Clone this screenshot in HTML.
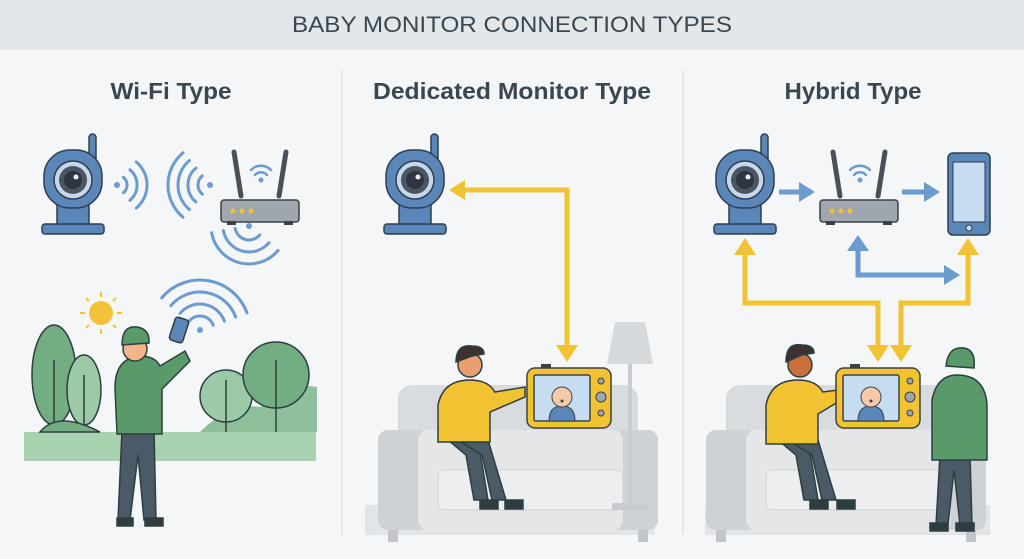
<!DOCTYPE html>
<html><head><meta charset="utf-8"><style>
html,body{margin:0;padding:0;background:#f4f6f8}
svg{display:block}
text{font-family:"Liberation Sans",sans-serif;fill:#3a4650}
</style></head><body>
<svg width="1024" height="559" viewBox="0 0 1024 559" xmlns="http://www.w3.org/2000/svg">
<defs>
 <g id="cam">
  <rect x="16" y="-46" width="7" height="32" rx="3.5" fill="#5b86b8" stroke="#2e3e50" stroke-width="1.5"/>
  <rect x="-16" y="18" width="32" height="30" fill="#5b86b8" stroke="#2e3e50" stroke-width="1.5"/>
  <rect x="-31" y="44" width="62" height="10" rx="3" fill="#5b86b8" stroke="#2e3e50" stroke-width="1.5"/>
  <rect x="-29" y="-30" width="58" height="58" rx="26" fill="#5b86b8" stroke="#2e3e50" stroke-width="1.5"/>
  <circle cx="0" cy="0" r="19" fill="#c6d7ea" stroke="#2e3e50" stroke-width="1.5"/>
  <circle cx="0" cy="0" r="14" fill="#4a5563"/>
  <circle cx="0" cy="0" r="9" fill="#2e3440"/>
  <circle cx="3" cy="-3" r="2.5" fill="#eee"/>
 </g>
 <g id="router">
  <line x1="13" y1="-48" x2="20" y2="-4" stroke="#4a5058" stroke-width="5" stroke-linecap="round"/>
  <line x1="65" y1="-48" x2="58" y2="-4" stroke="#4a5058" stroke-width="5" stroke-linecap="round"/>
  <rect x="0" y="0" width="78" height="22" rx="3" fill="#a0a6ad" stroke="#3b4148" stroke-width="1.5"/>
  <circle cx="12" cy="11" r="2.5" fill="#f1c232"/><circle cx="21" cy="11" r="2.5" fill="#f1c232"/><circle cx="30" cy="11" r="2.5" fill="#f1c232"/>
  <rect x="6" y="21" width="9" height="4" fill="#3b4148"/><rect x="63" y="21" width="9" height="4" fill="#3b4148"/>
  <path d="M30 -30 a14 14 0 0 1 20 0 M34 -25 a8 8 0 0 1 12 0" stroke="#6c9bcf" stroke-width="2.5" fill="none" stroke-linecap="round"/>
  <circle cx="40" cy="-20" r="2.5" fill="#6c9bcf"/>
 </g>
 <g id="couch">
  <rect x="20" y="0" width="240" height="90" rx="14" fill="#d9dcdf"/>
  <rect x="0" y="45" width="50" height="100" rx="10" fill="#cfd2d5"/>
  <rect x="230" y="45" width="50" height="100" rx="10" fill="#cfd2d5"/>
  <rect x="40" y="45" width="205" height="100" rx="10" fill="#e4e6e8"/>
  <rect x="60" y="85" width="185" height="40" rx="6" fill="#eceef0" stroke="#d0d3d6"/>
  <rect x="10" y="145" width="10" height="12" fill="#c2c6ca"/><rect x="260" y="145" width="10" height="12" fill="#c2c6ca"/>
 </g>
 <g id="mon">
  <rect x="0" y="0" width="84" height="60" rx="8" fill="#f1c232" stroke="#3b4148" stroke-width="1.5"/>
  <rect x="14" y="-4" width="10" height="4" fill="#3b4148"/>
  <rect x="7" y="7" width="56" height="46" rx="2" fill="#c6dcef" stroke="#3b4148" stroke-width="1.5"/>
  <path d="M22 53 q0 -15 13 -15 q13 0 13 15z" fill="#5b86b8" stroke="#3b4148"/>
  <circle cx="35" cy="29" r="10" fill="#f6c9a8" stroke="#3b4148"/>
  <circle cx="35" cy="33" r="1.5" fill="#3b4148"/>
  <circle cx="74" cy="13" r="3" fill="#a0a6ad" stroke="#3b4148"/><circle cx="74" cy="29" r="5" fill="#a0a6ad" stroke="#3b4148"/><circle cx="74" cy="45" r="3" fill="#a0a6ad" stroke="#3b4148"/>
 </g>
</defs>

<rect x="0" y="0" width="1024" height="50" fill="#e4e7ea"/>
<text x="512" y="32" font-size="22" text-anchor="middle" textLength="440" lengthAdjust="spacingAndGlyphs">BABY MONITOR CONNECTION TYPES</text>
<line x1="342" y1="70" x2="342" y2="535" stroke="#d5d9dd"/>
<line x1="683" y1="70" x2="683" y2="535" stroke="#d5d9dd"/>
<g font-weight="bold">
<text x="171" y="99" font-size="23" text-anchor="middle" textLength="121" lengthAdjust="spacingAndGlyphs">Wi-Fi Type</text>
<text x="512" y="99" font-size="23" text-anchor="middle" textLength="278" lengthAdjust="spacingAndGlyphs">Dedicated Monitor Type</text>
<text x="853" y="99" font-size="23" text-anchor="middle" textLength="137" lengthAdjust="spacingAndGlyphs">Hybrid Type</text>
</g>

<!-- Panel 1 -->
<use href="#cam" x="73" y="180"/>
<use href="#router" x="221" y="200"/>
<g stroke="#6c9bcf" stroke-width="3" fill="none" stroke-linecap="round">
 <path d="M123.4 177.3 A10 10 0 0 1 123.4 192.7"/><path d="M129.9 169.7 A20 20 0 0 1 129.9 200.3"/><path d="M136.3 162 A30 30 0 0 1 136.3 208"/>
 <path d="M202.3 175.8 A12 12 0 0 0 202.3 194.2"/><path d="M195.9 168.1 A22 22 0 0 0 195.9 201.9"/><path d="M189.4 160.5 A32 32 0 0 0 189.4 209.5"/><path d="M183 152.8 A42 42 0 0 0 183 217.2"/>
 <path d="M259.7 235 A14 14 0 0 1 235.2 228.4"/><path d="M268.9 242.7 A26 26 0 0 1 223.4 230.5"/><path d="M278.1 250.4 A38 38 0 0 1 211.6 232.6"/>
 <path d="M189.3 321 A14 14 0 0 1 213.2 325.2"/><path d="M180.1 313.3 A26 26 0 0 1 224.4 321.1"/><path d="M170.9 305.6 A38 38 0 0 1 235.7 317"/><path d="M161.7 297.9 A50 50 0 0 1 247 312.9"/>
</g>
<circle cx="117" cy="185" r="3" fill="#6c9bcf"/><circle cx="210" cy="185" r="3" fill="#6c9bcf"/><circle cx="249" cy="226" r="3" fill="#6c9bcf"/><circle cx="200" cy="330" r="3" fill="#6c9bcf"/>
<circle cx="101" cy="313" r="12" fill="#f4c33b"/>
<g stroke="#f4c33b" stroke-width="2"><line x1="101" y1="292" x2="101" y2="297"/><line x1="101" y1="329" x2="101" y2="334"/><line x1="80" y1="313" x2="85" y2="313"/><line x1="117" y1="313" x2="122" y2="313"/><line x1="86" y1="298" x2="89" y2="301"/><line x1="113" y1="325" x2="116" y2="328"/><line x1="116" y1="298" x2="113" y2="301"/><line x1="86" y1="328" x2="89" y2="325"/></g>
<path d="M200 432 q30 -30 60 -25 q30 -25 57 -20 v45z" fill="#8cc09a"/>
<rect x="24" y="432" width="292" height="29" fill="#a9d3b0"/>
<g stroke="#2e3e40" stroke-width="1.5">
 <ellipse cx="54" cy="375" rx="22" ry="50" fill="#73ae82"/><line x1="54" y1="360" x2="54" y2="432"/>
 <ellipse cx="84" cy="390" rx="17" ry="35" fill="#9ccaa6"/><line x1="84" y1="375" x2="84" y2="432"/>
 <path d="M40 432 q18 -22 60 0z" fill="#73ae82"/>
 <circle cx="226" cy="396" r="26" fill="#9ccaa6"/><line x1="226" y1="380" x2="226" y2="432"/>
 <circle cx="276" cy="375" r="33" fill="#73ae82"/><line x1="276" y1="360" x2="276" y2="432"/>
 <path d="M122 430 l-4 90 h12 l8 -65 l6 65 h12 l-2 -90z" fill="#4a5a66"/>
 <path d="M115 388 q0 -30 25 -32 q15 0 20 10 l25 -15 l5 10 l-28 28 v45 h-45z" fill="#5a9a68"/>
 <circle cx="135" cy="349" r="12" fill="#f2b48a"/>
 <path d="M122 345 q0 -20 15 -18 q13 2 12 16z" fill="#5a9a68"/>
 <rect x="172" y="318" width="14" height="24" rx="3" fill="#5b86b8" transform="rotate(18 179 330)"/>
 <rect x="117" y="518" width="16" height="8" fill="#2e3e40"/><rect x="145" y="518" width="18" height="8" fill="#2e3e40"/>
</g>

<!-- Panel 2 -->
<use href="#cam" x="415" y="180"/>
<rect x="365" y="505" width="290" height="30" fill="#e2e5e8"/>
<use href="#couch" x="378" y="385"/>
<line x1="630" y1="362" x2="630" y2="505" stroke="#c8ccd0" stroke-width="4"/>
<rect x="612" y="503" width="36" height="7" rx="2" fill="#c8ccd0"/>
<path d="M615 322 h30 l8 42 h-46z" fill="#d6d9dc"/>
<g stroke="#2e3e40" stroke-width="1.5">
 <path d="M448 440 h30 l10 60 h-14 l-8 -45z" fill="#4a5a66"/>
 <path d="M458 440 h30 l18 60 h-14 l-10 -45z" fill="#4a5a66"/>
 <path d="M438 405 q5 -25 32 -25 q18 0 25 12 l30 -5 v10 l-35 15 v30 h-52z" fill="#f1c232"/>
 <circle cx="470" cy="365" r="12" fill="#e9a070"/>
 <path d="M456 362 q0 -18 16 -16 q12 0 12 8 l-12 2z" fill="#3b3230"/>
 <rect x="480" y="500" width="18" height="9" fill="#2e3e40"/><rect x="505" y="500" width="18" height="9" fill="#2e3e40"/>
</g>
<use href="#mon" x="527" y="368"/>
<g stroke="#f1c232" stroke-width="5" fill="none"><path d="M463 190 H567 V345"/></g>
<path d="M449 190 l16 -10 v20z" fill="#f1c232"/><path d="M567 362 l-11 -17 h22z" fill="#f1c232"/>

<!-- Panel 3 -->
<use href="#cam" x="745" y="180"/>
<use href="#router" x="820" y="200"/>
<rect x="948" y="153" width="42" height="82" rx="5" fill="#5b86b8" stroke="#2e3e50" stroke-width="1.5"/>
<rect x="953" y="162" width="32" height="60" fill="#c6dcef" stroke="#2e3e50"/>
<circle cx="969" cy="228" r="3" fill="#c6dcef" stroke="#2e3e50"/>
<g stroke="#6c9bcf" stroke-width="5" fill="none"><path d="M779 192 H800"/><path d="M902 192 H925"/><path d="M858 250 V275 H945"/></g>
<g fill="#6c9bcf"><path d="M815 192 l-16 -10 v20z"/><path d="M940 192 l-16 -10 v20z"/><path d="M858 235 l-11 16 h22z"/><path d="M960 275 l-16 -10 v20z"/></g>
<g stroke="#f1c232" stroke-width="5" fill="none"><path d="M745 255 V303 H878 V345"/><path d="M901 345 V303 H968 V255"/></g>
<g fill="#f1c232"><path d="M745 238 l-11 17 h22z"/><path d="M968 238 l-11 17 h22z"/><path d="M878 362 l-11 -17 h22z"/><path d="M901 362 l-11 -17 h22z"/></g>
<rect x="705" y="505" width="285" height="30" fill="#e2e5e8"/>
<use href="#couch" x="706" y="385"/>
<g stroke="#2e3e40" stroke-width="1.5">
 <path d="M778 440 h30 l10 60 h-14 l-8 -45z" fill="#4a5a66"/>
 <path d="M788 440 h30 l18 60 h-14 l-10 -45z" fill="#4a5a66"/>
 <path d="M766 405 q5 -25 32 -25 q18 0 25 12 l15 -2 v12 l-20 12 v30 h-52z" fill="#f1c232"/>
 <circle cx="800" cy="365" r="12" fill="#c9703a"/>
 <path d="M786 362 q0 -20 16 -17 q12 0 12 8 l-12 2z" fill="#3b3230"/>
 <rect x="810" y="500" width="18" height="9" fill="#2e3e40"/><rect x="837" y="500" width="18" height="9" fill="#2e3e40"/>
 <path d="M940 455 l-4 70 h12 l6 -55 l6 55 h12 l-2 -70z" fill="#4a5a66"/>
 <path d="M932 400 q5 -25 25 -25 q28 0 30 30 v55 h-55z" fill="#5a9a68"/>
 <path d="M946 366 q2 -20 18 -18 q12 2 10 20z" fill="#5a9a68"/>
 <rect x="930" y="523" width="18" height="8" fill="#2e3e40"/><rect x="956" y="523" width="18" height="8" fill="#2e3e40"/>
</g>
<use href="#mon" x="836" y="368"/>
</svg>
</body></html>
